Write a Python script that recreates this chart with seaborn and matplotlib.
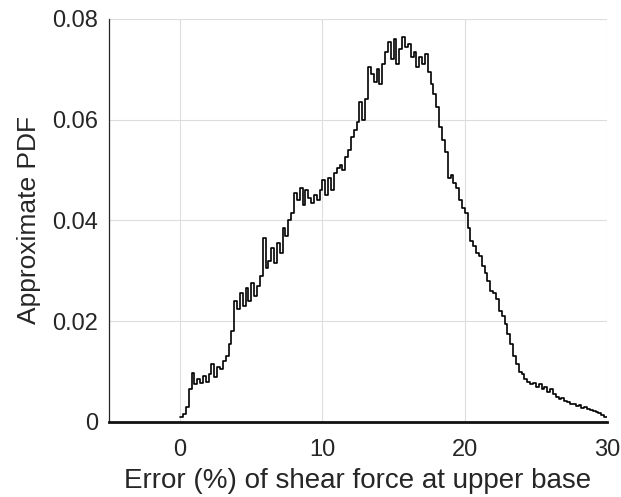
import numpy as np
import pandas as pd
import matplotlib
matplotlib.use("Agg")
import matplotlib.pyplot as plt
import seaborn as sns

# Bin layout (error %, bin width 0.2 from 0 to 30)
bin_start = 0.0
bin_end = 30.0
# Approximate PDF values (x1e-3), one per bin
pdf_milli = [
    1.0, 1.5, 3.0, 6.5, 9.8, 7.5, 8.5, 7.8, 9.2, 8.0,
    9.5, 11.5, 9.0, 11.0, 10.5, 12.0, 13.0, 15.5, 18.0, 24.0,
    22.5, 25.5, 23.0, 26.5, 24.0, 27.5, 25.0, 27.0, 29.0, 36.5,
    30.5, 32.0, 34.5, 31.5, 35.5, 33.5, 38.5, 37.0, 40.0, 41.5,
    45.5, 44.0, 46.5, 43.0, 46.0, 44.5, 43.5, 45.0, 44.0, 46.0,
    48.0, 45.0, 48.5, 46.0, 49.5, 50.5, 51.0, 50.0, 52.5, 54.0,
    56.5, 58.0, 59.5, 63.5, 60.0, 64.0, 70.5, 69.0, 67.5, 70.0,
    67.0, 71.0, 73.5, 75.5, 72.0, 76.0, 71.0, 74.0, 76.5, 74.5,
    75.0, 72.5, 73.5, 70.5, 72.5, 71.0, 73.0, 69.5, 67.0, 65.0,
    62.5, 58.5, 56.0, 53.5, 48.5, 49.0, 47.5, 46.5, 44.0, 42.5,
    41.5, 38.5, 36.0, 35.0, 33.5, 33.0, 31.0, 29.5, 28.0, 26.0,
    25.5, 24.5, 22.0, 21.0, 19.5, 17.5, 15.5, 13.0, 11.5, 10.0,
    9.5, 8.5, 8.0, 7.5, 7.8, 7.0, 7.5, 6.5, 7.0, 6.0,
    6.5, 5.5, 5.0, 4.5, 4.8, 4.2, 4.0, 3.6, 3.5, 3.2,
    3.4, 2.8, 3.0, 2.6, 2.4, 2.2, 2.0, 1.7, 1.4, 1.0,
]
x_ticks = [0, 10, 20, 30]
y_ticks = [0, 0.02, 0.04, 0.06, 0.08]
y_ticklabels = ["0", "0.02", "0.04", "0.06", "0.08"]

n = len(pdf_milli)
edges = np.linspace(bin_start, bin_end, n + 1)
centers = (edges[:-1] + edges[1:]) / 2
df = pd.DataFrame({"err": centers, "pdf": np.array(pdf_milli) / 1000.0})

sns.set_style("white")
plt.rcParams["font.family"] = ["Liberation Sans", "DejaVu Sans"]

fig = plt.figure(figsize=(6.21, 4.97), dpi=100)
ax = fig.add_axes([0.1755, 0.151, 0.802, 0.811])

sns.histplot(data=df, x="err", weights="pdf", bins=n,
             binrange=(bin_start, bin_end), element="step",
             fill=False, stat="count", color="black", linewidth=1.2, ax=ax)

ax.set_xlim(-5, 30)
ax.set_ylim(0, 0.08)
ax.set_xticks(x_ticks)
ax.set_xticklabels([str(t) for t in x_ticks])
ax.set_yticks(y_ticks)
ax.set_yticklabels(y_ticklabels)
ax.grid(True, color="#dddddd", linewidth=0.8)
ax.set_axisbelow(True)

for s in ["top", "right"]:
    ax.spines[s].set_visible(False)
ax.spines["left"].set_color("#262626")
ax.spines["left"].set_linewidth(0.9)
ax.spines["bottom"].set_color("#111111")
ax.spines["bottom"].set_linewidth(2.0)

ax.tick_params(axis="both", direction="in", length=5, width=0.9,
               colors="#262626", labelsize=17)
ax.tick_params(axis="y", pad=8)
ax.tick_params(axis="x", pad=12)
ax.set_xlabel("Error (%) of shear force at upper base", fontsize=20,
              color="#262626", labelpad=5)
ax.set_ylabel("Approximate PDF", fontsize=19, color="#262626", labelpad=8)

fig.savefig("out.png", dpi=100)
